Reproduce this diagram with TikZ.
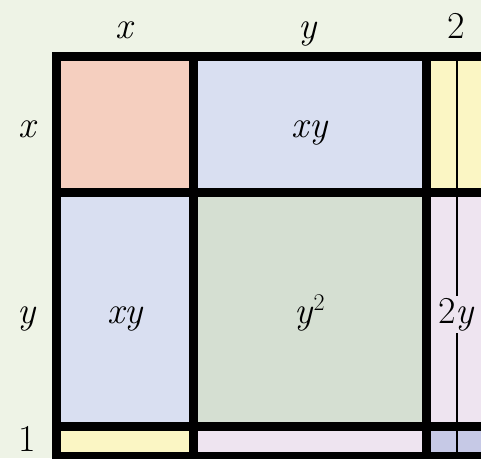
\documentclass[tikz,border=0pt]{standalone}
\definecolor{bg}{HTML}{EEF3E6}
\definecolor{salmon}{HTML}{F5CFBF}
\definecolor{bluec}{HTML}{D9DFF1}
\definecolor{greenc}{HTML}{D5DFD2}
\definecolor{yellowc}{HTML}{FBF6C4}
\definecolor{lavc}{HTML}{EEE4F0}
\definecolor{slatec}{HTML}{C6C9E6}
\definecolor{thin}{HTML}{4A4A4A}
\newcommand{\supii}{{\fontsize{24}{24}\selectfont\raisebox{13pt}{2}}}
\begin{document}
\begin{tikzpicture}[x=1pt,y=-1pt,
  lbl/.style={font=\fontsize{38}{40}\selectfont, inner sep=0pt, anchor=base},
  cell/.style={draw=none, inner sep=0pt, anchor=north west},
  grid/.style={black, line width=9pt}]
\useasboundingbox (0,0) rectangle (481,458);
\fill[bg] (0,0) rectangle (481,458);
% cells
\node[cell, fill=salmon, minimum width=128pt, minimum height=127pt] (c11) at (61,61) {};
\node[cell, fill=bluec, minimum width=225pt, minimum height=127pt] (c12) at (197,61) {};
\node[cell, fill=yellowc, minimum width=60pt, minimum height=127pt] (c13) at (431,61) {};
\node[cell, fill=bluec, minimum width=128pt, minimum height=225pt] (c21) at (61,197) {};
\node[cell, fill=greenc, minimum width=225pt, minimum height=225pt] (c22) at (197,197) {};
\node[cell, fill=lavc, minimum width=60pt, minimum height=225pt] (c23) at (431,197) {};
\node[cell, fill=yellowc, minimum width=128pt, minimum height=21pt] (c31) at (61,431) {};
\node[cell, fill=lavc, minimum width=225pt, minimum height=21pt] (c32) at (197,431) {};
\node[cell, fill=slatec, minimum width=60pt, minimum height=21pt] (c33) at (431,431) {};
% thin middle line of the third column
\coordinate (t1) at (457,61);
\coordinate (t2) at (457,452);
\draw[thin, line width=1.1pt] (t1) -- (t2);
% black grid
\draw[grid] (56.5,52) -- (56.5,470);
\draw[grid] (193,52) -- (193,470);
\draw[grid] (426.5,52) -- (426.5,470);
\draw[grid] (52,56.5) -- (490,56.5);
\draw[grid] (52,192.5) -- (490,192.5);
\draw[grid] (52,426.5) -- (490,426.5);
\draw[grid] (52,456.5) -- (490,456.5);
% labels
\node[lbl] (tx) at (124,38) {\itshape x};
\node[lbl] (ty) at (308,38) {\itshape y};
\node[lbl] (t2l) at (456,38) {2};
\node[lbl] (lx) at (27,137) {\itshape x};
\node[lbl] (ly) at (27,323) {\itshape y};
\node[lbl] (l1) at (27,451) {1};
\node[lbl] (xy1) at (309.5,137) {\itshape xy};
\node[lbl] (xy2) at (125,323) {\itshape xy};
\node[lbl] (yy) at (309.5,323) {\itshape y\/\upshape\supii};
\node[lbl, fill=lavc, inner xsep=1pt, inner ysep=2pt] (ty2) at (456,323) {2\itshape y};
\end{tikzpicture}
\end{document}
